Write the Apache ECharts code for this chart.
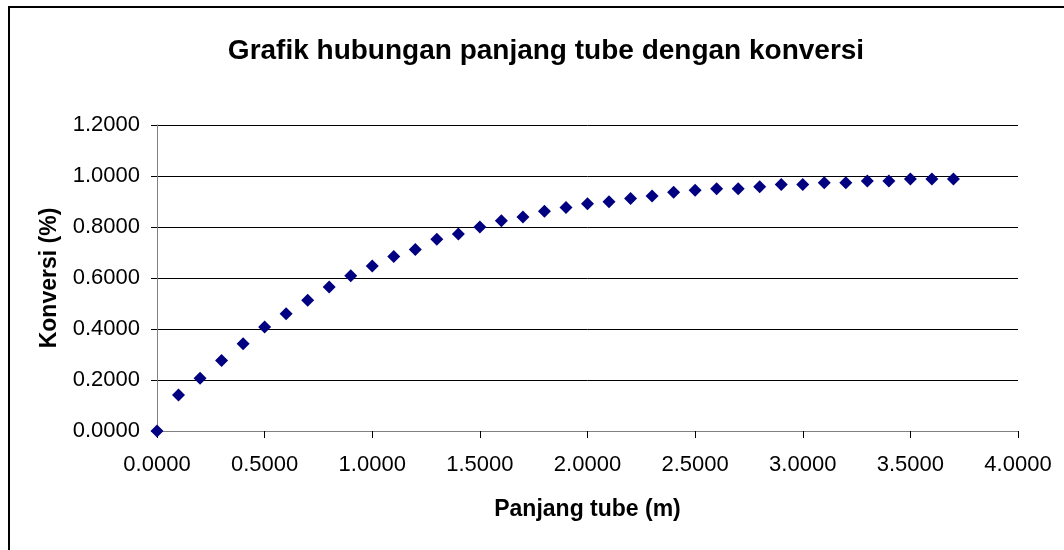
<!DOCTYPE html>
<html>
<head>
<meta charset="utf-8">
<script src="https://cdn.jsdelivr.net/npm/echarts@6/dist/echarts.min.js"></script>
<style>
  html, body { margin: 0; padding: 0; background: #fff; }
  #chart { width: 1064px; height: 550px; }
</style>
</head>
<body>
<div id="chart"></div>
<script>
// panjang tube (m)
var panjang = [0.0, 0.1, 0.2, 0.3, 0.4, 0.5, 0.6, 0.7, 0.8, 0.9,
  1.0, 1.1, 1.2, 1.3, 1.4, 1.5, 1.6, 1.7, 1.8, 1.9,
  2.0, 2.1, 2.2, 2.3, 2.4, 2.5, 2.6, 2.7, 2.8, 2.9,
  3.0, 3.1, 3.2, 3.3, 3.4, 3.5, 3.6, 3.7];
// konversi
var konversi = [0.000, 0.141, 0.207, 0.276, 0.342, 0.408, 0.460, 0.513, 0.565, 0.609,
  0.647, 0.684, 0.712, 0.752, 0.773, 0.800, 0.825, 0.839, 0.862, 0.876,
  0.891, 0.899, 0.912, 0.922, 0.936, 0.944, 0.950, 0.950, 0.958, 0.967,
  0.967, 0.974, 0.974, 0.980, 0.980, 0.988, 0.988, 0.988];

var titleText = 'Grafik hubungan panjang tube dengan konversi';
var xName = 'Panjang tube (m)';
var yName = 'Konversi (%)';

var points = panjang.map(function (x, i) { return [x, konversi[i]]; });
var font = 'Liberation Sans, Arial, sans-serif';

var myChart = echarts.init(document.getElementById('chart'));
myChart.setOption({
  animation: false,
  backgroundColor: '#fff',
  title: {
    text: titleText,
    left: 541,
    textAlign: 'center',
    top: 32,
    textStyle: { fontFamily: font, fontSize: 28, fontWeight: 'bold', color: '#000' }
  },
  graphic: [{
    type: 'rect',
    shape: { x: 9, y: 7, width: 1100, height: 600 },
    style: { fill: 'none', stroke: '#000', lineWidth: 2 },
    silent: true
  }],
  grid: { left: 157, top: 125, width: 861, height: 306 },
  xAxis: {
    type: 'value',
    min: 0,
    max: 4,
    interval: 0.5,
    name: xName,
    nameLocation: 'middle',
    nameGap: 67,
    nameTextStyle: { fontFamily: font, fontSize: 23, fontWeight: 'bold', color: '#000' },
    axisLine: { show: true, lineStyle: { color: '#808080', width: 1 } },
    axisTick: { show: true, length: 7, lineStyle: { color: '#000' } },
    axisLabel: {
      margin: 23,
      fontFamily: font, fontSize: 22, color: '#000',
      formatter: function (v) { return v.toFixed(4); }
    },
    splitLine: { show: false }
  },
  yAxis: {
    type: 'value',
    min: 0,
    max: 1.2,
    interval: 0.2,
    name: yName,
    nameLocation: 'middle',
    nameGap: 96,
    nameTextStyle: { fontFamily: font, fontSize: 23, fontWeight: 'bold', color: '#000' },
    axisLine: { show: true, lineStyle: { color: '#808080', width: 1 } },
    axisTick: { show: true, length: 6, lineStyle: { color: '#000' } },
    axisLabel: {
      margin: 17,
      fontFamily: font, fontSize: 22, color: '#000',
      formatter: function (v) { return v.toFixed(4); }
    },
    splitLine: { show: true, lineStyle: { color: '#000', width: 1 } }
  },
  series: [{
    type: 'scatter',
    data: points,
    symbol: 'diamond',
    symbolSize: 13,
    itemStyle: { color: '#000080', opacity: 1 }
  }]
});
</script>
</body>
</html>
